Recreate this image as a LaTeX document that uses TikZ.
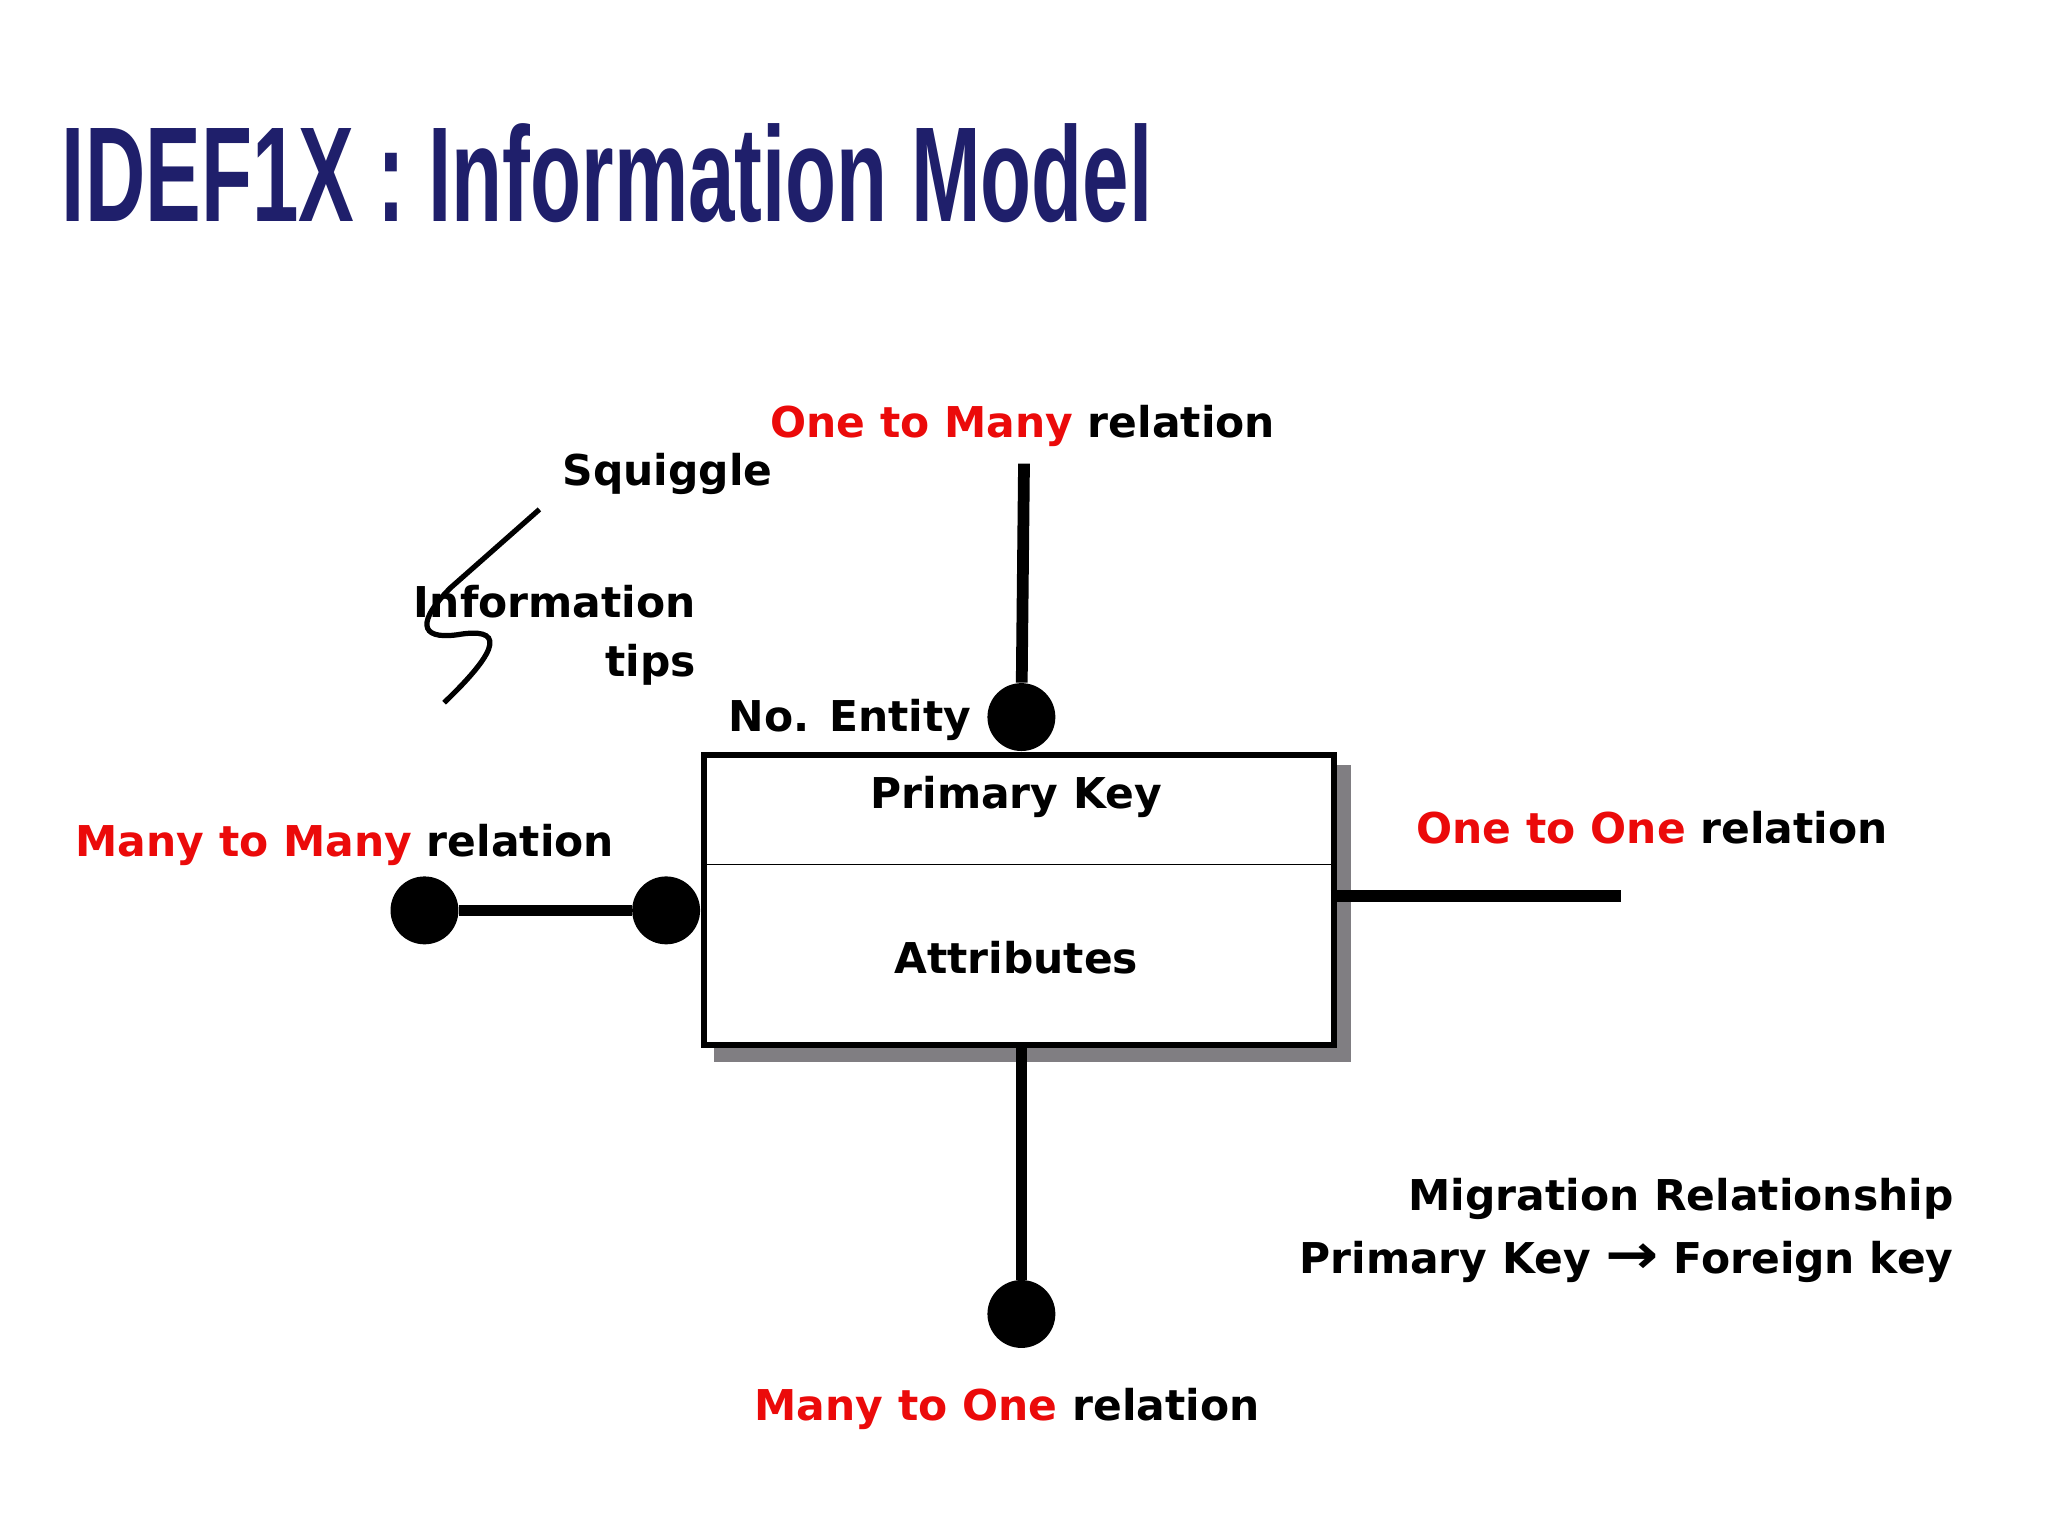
\documentclass[tikz,border=0pt]{standalone}
\usepackage{fontspec}
\setmainfont{DejaVu Sans}
\newfontfamily\titlefont{Liberation Sans}
\definecolor{navy}{RGB}{31,31,107}
\definecolor{rred}{RGB}{235,10,10}
\definecolor{shad}{RGB}{128,126,130}
\begin{document}
\begin{tikzpicture}[x=0.02cm,y=-0.02cm,
  lbl/.style={font=\bfseries\fontsize{18.5}{24}\selectfont,inner sep=0pt},
  dot/.style={circle,fill=black,minimum size=1.04cm,inner sep=0pt},
  rel/.style={line width=0.18cm}]
\useasboundingbox[fill=white] (0,0) rectangle (1568,1176);
\node[anchor=north west,inner sep=0pt,text=navy] (title) at (47,94)
  {\resizebox{16.7cm}{1.5cm}{\titlefont\bfseries IDEF1X : Information Model}};
% shadow and box
\fill[shad] (547,586) rectangle (1034,813);
\fill[white] (537,576) rectangle (1019,798);
\node[draw,line width=0.09cm,minimum width=9.64cm,minimum height=4.44cm,anchor=north west,inner sep=0pt] (box) at (537,576) {};
\draw[line width=0.02cm] (537,662) -- (1019,662);
\node[lbl] (pk) at (778,610) {Primary Key};
\node[lbl] (attr) at (778,733) {Attributes};
% top
\node[dot] (dtop) at (782,549) {};
\coordinate (ttop) at (784,355);
\draw[rel] (ttop) -- (dtop);
\node[lbl] (otm) at (783,326) {\textcolor{rred}{One to Many} relation};
\node[lbl,anchor=east] (ne) at (744,551) {No. Entity};
% left
\node[dot] (dl1) at (325,697) {};
\node[dot] (dl2) at (510,697) {};
\draw[rel] (dl1) -- (dl2);
\node[lbl] (mtm) at (264,647) {\textcolor{rred}{Many to Many} relation};
% right
\coordinate (rs) at (1019,686);
\coordinate (re) at (1241,686);
\draw[rel] (rs) -- (re);
\node[lbl] (oto) at (1265,634) {\textcolor{rred}{One to One} relation};
% bottom
\coordinate (bs) at (782,800);
\node[dot] (db) at (782,1006) {};
\draw[rel] (bs) -- (db);
\node[lbl] (mto) at (771,1079) {\textcolor{rred}{Many to One} relation};
% migration
\node[lbl,anchor=east] (mig1) at (1496,918) {Migration Relationship};
\node[lbl,anchor=east] (mig2) at (1496,966) {Primary Key \scalebox{1.5}[1.3]{→} Foreign key};
% squiggle
\coordinate (s1) at (413,390);
\coordinate (s2) at (340,538);
\draw[line width=0.08cm] (s1) -- (345,450) .. controls (320,475) and (320,490) .. (350,486)
  .. controls (385,480) and (385,495) .. (s2);
\node[lbl] (sq) at (511,363) {Squiggle};
\node[lbl,anchor=east] (inf) at (533,461) {Information};
\node[lbl,anchor=east] (tips) at (533,509) {tips};
\end{tikzpicture}
\end{document}
